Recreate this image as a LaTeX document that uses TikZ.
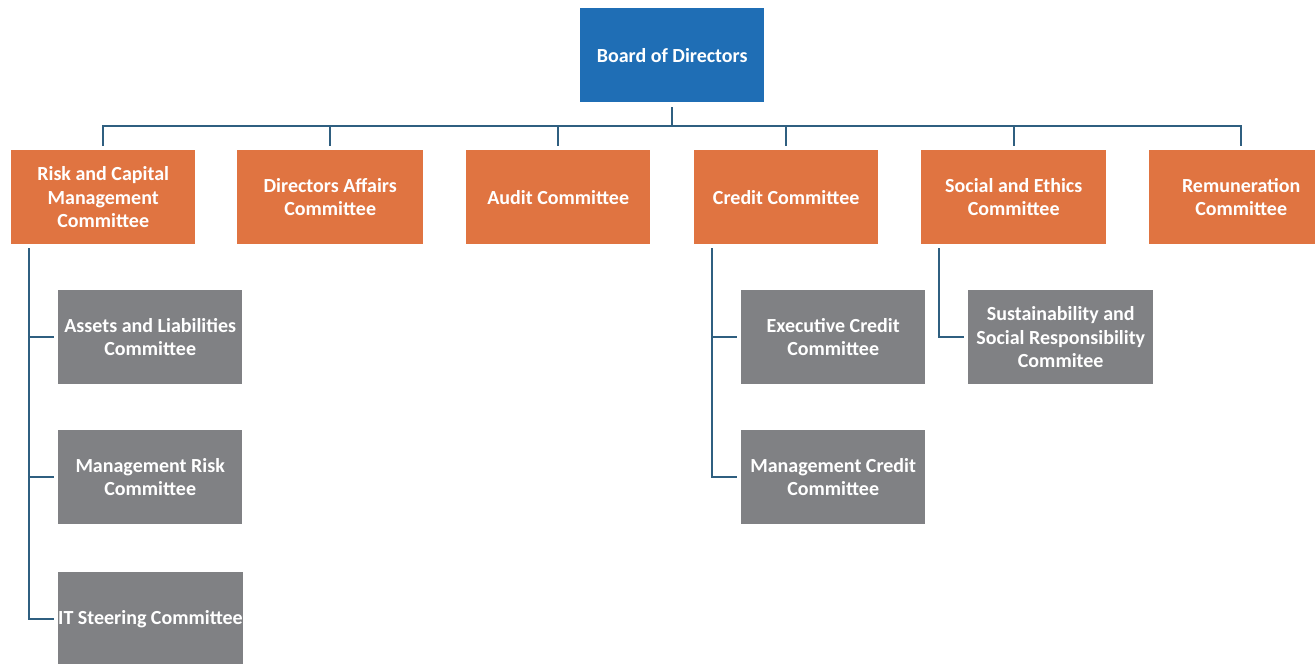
\documentclass[tikz,border=0pt]{standalone}
\usepackage{fontspec}
\setmainfont{Carlito}
\begin{document}
\definecolor{boardblue}{HTML}{1F6EB5}
\definecolor{comorange}{HTML}{E07441}
\definecolor{subgray}{HTML}{808184}
\definecolor{linkblue}{HTML}{2F5F80}
\begin{tikzpicture}[x=1pt,y=-1pt,
  box/.style={anchor=north west, minimum height=94pt, inner sep=0pt,
    text=white, align=center, font=\fontsize{20}{23.5}\selectfont\bfseries},
  board/.style={box, fill=boardblue, minimum width=184pt},
  committee/.style={box, fill=comorange, minimum width=184pt},
  subcom/.style={box, fill=subgray, minimum width=184pt},
  conn/.style={draw=linkblue, line width=2.2pt}]
\useasboundingbox (0,0) rectangle (1315,664);
\clip (0,0) rectangle (1315,664);

% top level
\node[board] (bod) at (580,8) {Board of Directors};

% committees
\node[committee] (rcm) at (11,150) {Risk and Capital\\Management\\Committee};
\node[committee, minimum width=186pt] (daf) at (237,150) {Directors Affairs\\Committee};
\node[committee] (aud) at (466,150) {Audit Committee};
\node[committee] (crd) at (694,150) {Credit Committee};
\node[committee, minimum width=185pt] (soc) at (921,150) {Social and Ethics\\Committee};
\node[committee] (rem) at (1149,150) {Remuneration\\Committee};

% sub-committees
\node[subcom] (alc) at (58,290) {Assets and Liabilities\\Committee};
\node[subcom] (mrc) at (58,430) {Management Risk\\Committee};
\node[subcom] (itc) at (58,572) {IT Steering Committee};
\node[subcom] (ecc) at (741,290) {Executive Credit\\Committee};
\node[subcom] (mcc) at (741,430) {Management Credit\\Committee};
\node[subcom, minimum width=185pt] (ssr) at (968,290) {Sustainability and\\Social Responsibility\\Commitee};

% bus from the board to the committees
\coordinate (bus) at (0,126);
\draw[conn] ([yshift=-5pt]bod.south) -- (bod.south |- bus);
\draw[conn] ([yshift=4pt]rcm.north) -- (rcm.north |- bus) -- (rem.north |- bus) -- ([yshift=4pt]rem.north);
\foreach \c in {daf,aud,crd,soc}
  \draw[conn] (\c.north |- bus) -- ([yshift=4pt]\c.north);

% risk and capital branches
\coordinate (rspine) at ([xshift=18pt,yshift=-4pt]rcm.south west);
\draw[conn] (rspine) |- ([xshift=-4pt]itc.west);
\draw[conn] (rspine |- alc.west) -- ([xshift=-4pt]alc.west);
\draw[conn] (rspine |- mrc.west) -- ([xshift=-4pt]mrc.west);

% credit branches
\coordinate (cspine) at ([xshift=18pt,yshift=-4pt]crd.south west);
\draw[conn] (cspine) |- ([xshift=-4pt]mcc.west);
\draw[conn] (cspine |- ecc.west) -- ([xshift=-4pt]ecc.west);

% social and ethics branch
\coordinate (sspine) at ([xshift=18pt,yshift=-4pt]soc.south west);
\draw[conn] (sspine) |- ([xshift=-4pt]ssr.west);
\end{tikzpicture}
\end{document}
